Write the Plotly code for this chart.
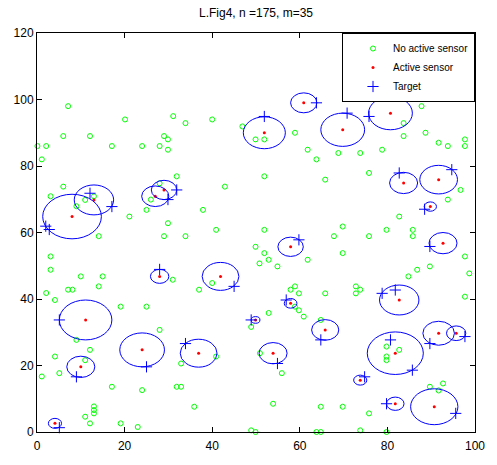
import plotly.graph_objects as go

# Inactive sensors (green open circles)
inactive_x = [7.1, 20.1, 6.0, 12.1, 0.1, 2.1, 17.1, 24.0, 1.1, 6.0, 3.1, 11.0, 13.0, 9.0, 21.1, 25.0, 14.1,
              31.1, 33.9, 40.0, 46.9, 49.9, 29.0, 29.9, 28.0, 29.9, 31.9, 28.0, 42.9, 26.0, 37.9, 29.9, 40.9, 29.0, 33.9,
              51.9, 58.9, 61.8, 63.8, 68.8, 73.8, 75.8, 51.9, 65.8, 51.9, 69.8, 67.8, 75.8,
              87.8, 83.7, 83.7, 88.7, 91.7, 93.8, 97.7, 97.7, 78.8, 96.7, 93.8, 82.7, 79.8, 85.8, 85.8,
              3.1, 3.1, 10.0, 15.0, 14.1, 2.1, 7.1, 8.1, 4.1, 19.1, 25.0, 9.0, 12.1, 4.1, 11.0, 5.1, 1.1, 17.1, 24.0,
              13.0, 13.0, 13.0, 11.0, 12.1, 19.1, 23.0,
              49.9, 50.8, 31.0, 40.0, 37.0, 28.0, 48.9, 40.9, 32.9, 31.9, 32.9, 35.9, 48.9, 49.9,
              51.9, 52.9, 54.9, 61.8, 69.8, 57.9, 58.9, 59.8, 65.8, 72.8, 73.8, 72.8, 52.9, 58.9, 59.8, 60.9, 64.8,
              50.9, 55.9, 53.9, 64.8, 69.8, 75.8, 73.8, 63.8, 64.8,
              97.7, 98.7, 89.7, 86.8, 84.8, 97.7, 79.8, 82.7, 79.8, 79.8, 89.7, 92.7, 91.7, 79.8]
inactive_y = [98.0, 94.0, 89.0, 89.0, 86.0, 86.0, 86.0, 86.0, 82.0, 73.8, 70.9, 69.8, 70.9, 67.9, 64.8, 66.8, 58.9,
              95.0, 92.9, 94.0, 91.9, 88.0, 89.0, 88.0, 86.0, 84.9, 76.9, 74.8, 73.8, 69.9, 66.8, 62.8, 60.8, 58.9, 58.9,
              88.0, 90.0, 84.9, 82.0, 83.9, 83.9, 77.9, 76.9, 75.9, 60.8, 61.8, 58.9, 58.9,
              98.0, 92.9, 89.0, 90.0, 87.0, 86.0, 88.0, 86.0, 84.9, 72.8, 69.9, 64.8, 60.8, 60.8, 58.9,
              52.8, 48.8, 46.8, 46.8, 43.8, 41.8, 42.8, 42.8, 39.7, 37.7, 37.7, 27.7, 24.7, 22.7, 21.6, 17.7, 16.7, 13.6, 12.6,
              7.7, 6.6, 5.6, 4.6, 2.6, 2.6, 1.5,
              55.7, 50.7, 45.8, 44.8, 42.8, 30.7, 31.6, 22.7, 20.6, 13.6, 13.6, 7.6, 0.5, 0.0,
              53.8, 51.8, 49.8, 51.8, 53.8, 42.8, 43.8, 41.7, 41.7, 43.8, 42.8, 41.7, 35.8, 37.7, 36.6, 34.7, 33.7,
              23.7, 17.7, 8.5, 7.6, 7.6, 5.6, 0.5, 0.0, 0.0,
              52.8, 47.7, 49.8, 48.8, 46.8, 40.7, 25.7, 24.7, 22.7, 21.6, 13.6, 14.6, 12.5, 0.0]

# Active sensors (red dots) and their sensing radii
active_x = [8.0, 13.0, 27.0, 29.0, 60.9, 51.9, 69.8, 80.7, 83.7, 91.7, 89.8, 11.1, 10.0, 4.1, 24.0, 28.0,
            41.9, 49.9, 36.9, 57.9, 57.9, 65.8, 53.9, 73.8, 92.7, 82.7, 91.7, 95.7, 81.8, 81.8, 90.7]
active_y = [64.8, 69.8, 70.9, 72.8, 99.0, 90.0, 90.9, 95.9, 74.9, 75.9, 67.8, 33.7, 19.6, 2.6, 24.7, 46.8,
            46.8, 33.7, 23.7, 55.7, 38.7, 30.7, 23.7, 15.6, 56.8, 39.7, 29.7, 29.7, 23.7, 8.5, 7.6]
radius = [6.7, 4.5, 3.1, 2.9, 3.0, 4.8, 5.0, 5.0, 3.2, 4.3, 1.4, 6.0, 3.2, 1.5, 5.1, 2.1,
          4.2, 1.0, 4.2, 2.9, 1.45, 3.1, 3.2, 1.5, 3.2, 4.5, 3.6, 2.2, 6.4, 2.0, 5.4]

# Targets (blue plus)
target_x = [2.0, 2.8, 12.1, 17.1, 31.9, 29.9, 63.8, 51.9, 70.8, 75.8, 82.7, 94.7, 88.5, 5.1, 9.0, 5.1, 25.0,
            28.0, 45.0, 48.9, 33.9, 59.8, 56.9, 64.8, 54.9, 74.8, 89.7, 78.8, 81.8, 89.7, 97.7, 80.7, 85.7, 79.8, 95.6]
target_y = [61.9, 60.9, 71.8, 67.8, 72.8, 69.9, 99.0, 94.9, 95.9, 94.9, 77.9, 78.9, 67.0, 33.7, 16.6, 1.3, 19.6,
            48.9, 43.8, 33.7, 26.6, 57.8, 39.7, 27.7, 20.6, 16.6, 55.8, 41.7, 42.7, 26.6, 28.7, 27.7, 18.6, 8.5, 5.6]

title_text = "L.Fig4, n =175, m=35"
x_ticks = [0, 20, 40, 60, 80, 100]
y_ticks = [0, 20, 40, 60, 80, 100, 120]

FONT = "Liberation Sans, Arial, Helvetica, sans-serif"

fig = go.Figure()
fig.add_trace(go.Scatter(x=inactive_x, y=inactive_y, mode="markers", name="No active sensor",
                         marker=dict(symbol="circle-open", size=5, color="#00FF00", line=dict(width=1)),
                         cliponaxis=False))
fig.add_trace(go.Scatter(x=active_x, y=active_y, mode="markers", name="Active sensor",
                         marker=dict(symbol="circle", size=3, color="#FF0000"), cliponaxis=False))
fig.add_trace(go.Scatter(x=target_x, y=target_y, mode="markers", name="Target",
                         marker=dict(symbol="cross-thin-open", size=8, color="#0000FF", line=dict(width=1, color="#0000FF")),
                         cliponaxis=False))

for ax, ay, r in zip(active_x, active_y, radius):
    fig.add_shape(type="circle", xref="x", yref="y", x0=ax - r, x1=ax + r, y0=ay - r, y1=ay + r,
                  line=dict(color="#0000FF", width=1), layer="above")

axis_common = dict(showline=True, linecolor="black", linewidth=1, mirror="ticks", ticks="inside",
                   ticklen=5, tickcolor="black", showgrid=False, zeroline=False,
                   tickfont=dict(family=FONT, size=12, color="black"))

fig.update_layout(
    width=497, height=465,
    margin=dict(l=37, r=12, t=33, b=28),
    paper_bgcolor="white", plot_bgcolor="white",
    title=dict(text=title_text, x=0.5, xref="paper", xanchor="center",
               y=1 - 13 / 465, yref="container", yanchor="middle",
               font=dict(family=FONT, size=12, color="black")),
    legend=dict(x=1, y=1, xanchor="right", yanchor="top", bordercolor="black", borderwidth=1,
                bgcolor="white", font=dict(family=FONT, size=10, color="black"),
                indentation=10),
    showlegend=True,
)
fig.update_xaxes(range=[0, 100], tickvals=x_ticks, ticklabelstandoff=3, **axis_common)
fig.update_yaxes(range=[0, 120], tickvals=y_ticks, **axis_common)

fig.write_html("out.html")
